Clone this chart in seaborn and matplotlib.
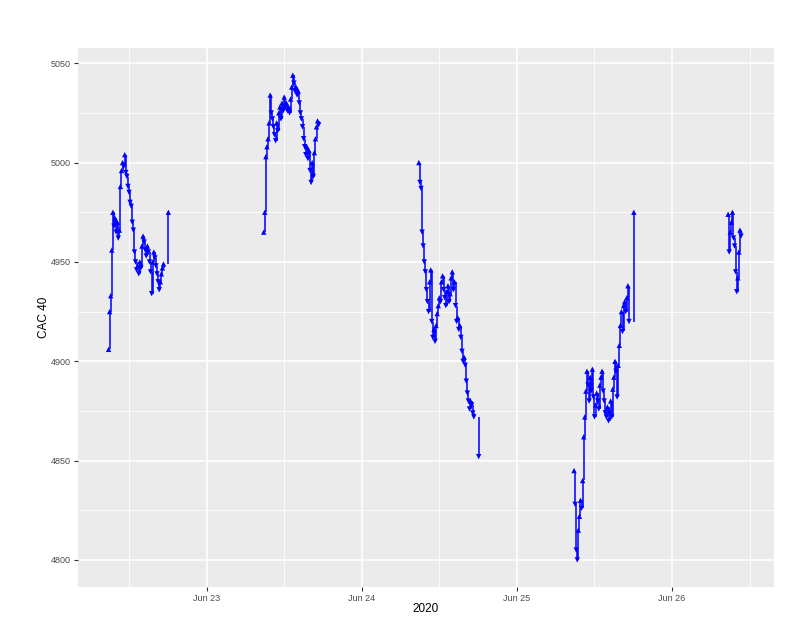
import numpy as np
import pandas as pd
import matplotlib
matplotlib.use("Agg")
import matplotlib.pyplot as plt
import matplotlib.dates as mdates
from matplotlib.ticker import MultipleLocator
import seaborn as sns

# ---- data (10-minute closes of the CAC 40) ----
day_dates = ["2020-06-22", "2020-06-23", "2020-06-24", "2020-06-25", "2020-06-26"]
day_start = ["08:50", "08:50", "08:50", "08:50", "08:40"]

jun22 = [4906, 4925, 4933, 4956, 4975, 4968, 4972, 4965, 4970, 4962,
         4966, 4988, 4996, 5000, 4998, 5004, 4995, 4993, 4988, 4985,
         4980, 4978, 4970, 4966, 4955, 4950, 4946, 4948, 4944, 4950,
         4947, 4958, 4963, 4960, 4956, 4953, 4958, 4955, 4950, 4945,
         4934, 4950, 4955, 4952, 4948, 4944, 4940, 4936, 4940, 4944,
         4947, 4949]
jun23 = [4965, 4975, 5003, 5008, 5012, 5020, 5034, 5025, 5022, 5018,
         5014, 5011, 5020, 5016, 5025, 5028, 5022, 5030, 5026, 5033,
         5028, 5030, 5026, 5028, 5025, 5032, 5038, 5044, 5040, 5036,
         5038, 5034, 5036, 5030, 5025, 5022, 5018, 5012, 5008, 5004,
         5008, 5002, 5006, 4996, 4990, 5000, 4993, 5005, 5012, 5018,
         5021, 5019]
jun24 = [5000, 4990, 4987, 4965, 4958, 4950, 4945, 4936, 4930, 4925,
         4940, 4946, 4920, 4912, 4916, 4910, 4918, 4924, 4928, 4932,
         4930, 4940, 4943, 4936, 4932, 4928, 4935, 4938, 4930, 4934,
         4942, 4945, 4936, 4940, 4928, 4920, 4922, 4916, 4918, 4912,
         4905, 4900, 4902, 4898, 4890, 4884, 4880, 4876, 4880, 4878,
         4874, 4872]
jun25 = [4845, 4828, 4805, 4800, 4815, 4822, 4830, 4826, 4840, 4862,
         4872, 4885, 4895, 4888, 4880, 4892, 4885, 4896, 4882, 4872,
         4878, 4884, 4880, 4876, 4888, 4892, 4895, 4885, 4880, 4874,
         4872, 4877, 4870, 4875, 4880, 4872, 4886, 4892, 4900, 4895,
         4882, 4898, 4908, 4918, 4925, 4915, 4928, 4930, 4925, 4932,
         4938, 4920]
jun26 = [4974, 4955, 4965, 4970, 4975, 4962, 4958, 4945, 4935, 4942,
         4955, 4966, 4963]

closing_time = "18:05"
closing_value = {"2020-06-22": 4975, "2020-06-24": 4852, "2020-06-25": 4975}

y_ticks = [4800, 4850, 4900, 4950, 5000, 5050]

# ---- build table ----
rows = []
for d, st, vals in zip(day_dates, day_start, [jun22, jun23, jun24, jun25, jun26]):
    times = pd.date_range(pd.Timestamp(f"{d} {st}"), periods=len(vals), freq="10min")
    series = list(zip(times, vals))
    if d in closing_value:
        series.append((pd.Timestamp(f"{d} {closing_time}"), closing_value[d]))
    prev = series[0][1]
    for t, v in series:
        rows.append({"time": t, "close": v, "prev": prev,
                     "dir": "up" if v >= prev else "down"})
        prev = v
df = pd.DataFrame(rows)

# ---- style ----
sns.set_theme(style="darkgrid", rc={
    "axes.facecolor": "#EBEBEB",
    "grid.color": "white",
})
plt.rcParams["font.family"] = ["Liberation Sans", "DejaVu Sans"]

fig = plt.figure(figsize=(8.02, 6.22), dpi=100)
ax = fig.add_axes([0.0973, 0.0563, 0.8678, 0.8666])

ax.vlines(df["time"], df["prev"], df["close"], color="blue", lw=1.1, zorder=3)
sns.scatterplot(data=df, x="time", y="close", style="dir",
                markers={"up": "^", "down": "v"}, color="blue",
                s=15, linewidth=0, legend=False, ax=ax, zorder=4)

# axes limits
x0 = mdates.date2num(pd.Timestamp("2020-06-22")) + 0.1713
x1 = mdates.date2num(pd.Timestamp("2020-06-26")) + 0.657
ax.set_xlim(x0, x1)
ax.set_ylim(4786.4, 5057.7)

ax.xaxis.set_major_locator(mdates.DayLocator())
ax.xaxis.set_major_formatter(mdates.DateFormatter("%b %d"))
ax.xaxis.set_minor_locator(mdates.HourLocator(byhour=[12]))
ax.set_yticks(y_ticks)
ax.yaxis.set_minor_locator(MultipleLocator(25))

ax.grid(which="major", color="white", lw=1.2)
ax.grid(which="minor", color="white", lw=0.6)
ax.set_axisbelow(True)

for s in ax.spines.values():
    s.set_visible(False)

ax.tick_params(which="major", length=3, width=0.8, color="#333333",
               labelsize=6.5, labelcolor="#4D4D4D", pad=2, bottom=True, left=True)
ax.tick_params(which="minor", length=0)

ax.set_xlabel("2020", fontsize=8.5, color="black", labelpad=0)
ax.set_ylabel("CAC 40", fontsize=8.5, color="black", labelpad=1)

fig.savefig("out.png", dpi=100)
